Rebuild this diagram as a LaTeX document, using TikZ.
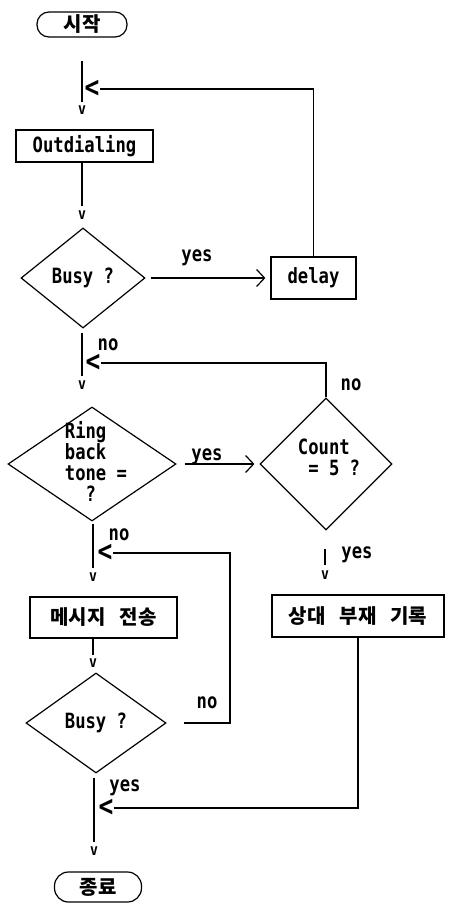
\documentclass[tikz,border=0pt]{standalone}
\usepackage{fontspec}
\usetikzlibrary{arrows.meta,shapes.geometric}
\newfontfamily\twfont[FakeStretch=0.82]{DejaVu Sans Mono}
\newfontfamily\krfont{Noto Sans CJK KR}
\newcommand{\ksp}{\hspace{14pt}}
\begin{document}
\begin{tikzpicture}[x=1pt,y=-1pt,
  line width=1.2pt,
  tw/.style={font=\twfont\bfseries\fontsize{21}{21}\selectfont},
  kr/.style={font=\krfont\bfseries\fontsize{20}{21}\selectfont},
  box/.style={draw, rectangle, inner sep=0pt},
  term/.style={draw, rectangle, inner sep=0pt},
  dia/.style={draw, diamond, inner sep=0pt},
  vglyph/.style={font=\twfont\bfseries\fontsize{16}{16}\selectfont, inner sep=0pt},
  ltglyph/.style={font=\twfont\bfseries\fontsize{30}{30}\selectfont, inner sep=0pt},
  lbl/.style={tw, inner sep=0pt},
  yesarrow/.style={-{Straight Barb[length=8pt,width=17pt,line width=1.2pt]}}
]
\useasboundingbox (0,0) rectangle (449,909);

% upper column
\node[term, kr, minimum width=90pt, minimum height=25pt, rounded corners=12pt] (start) at (82,24.5) {시작};
\node[vglyph] (v1) at (82,110) {v};
\node[ltglyph] (lt1) at (92,89) {<};
\node[box, tw, minimum width=137pt, minimum height=32pt] (outd) at (84.5,146) {Outdialing};
\node[vglyph] (v2) at (82,215) {v};
\node[dia, minimum width=124pt, minimum height=100pt, label={[tw]center:Busy ?}] (busy1) at (83,278) {};
\node[lbl] (yes1) at (197,258) {yes};
\node[box, tw, minimum width=85pt, minimum height=42pt] (delay) at (313.5,278) {delay};
\node[lbl] (no1) at (108,345) {no};
\node[vglyph] (v3) at (82,385) {v};
\node[ltglyph] (lt2) at (93,363) {<};

% ring back / count
\node[dia, minimum width=168pt, minimum height=114pt] (ring) at (92,464) {};
\node[tw, align=left, inner sep=0pt] (ringtxt) at (96,461) {Ring\\back\\tone =\\\hphantom{xx}?};
\node[lbl] (yes2) at (207,457) {yes};
\node[dia, minimum width=132pt, minimum height=132pt] (count) at (326,464) {};
\node[tw, align=left, inner sep=0pt] (counttxt) at (329,457) {Count\\\hphantom{x}= 5 ?};
\node[lbl] (no2) at (351,385) {no};
\node[lbl] (yes3) at (357,555) {yes};
\node[vglyph] (v7) at (325,575) {v};
\node[box, kr, minimum width=172pt, minimum height=42pt] (rec) at (358,616) {상대\ksp 부재\ksp 기록};

% lower column
\node[lbl] (no3) at (119,535) {no};
\node[ltglyph] (lt3) at (105,553) {<};
\node[vglyph] (v4) at (93,577) {v};
\node[box, kr, minimum width=147pt, minimum height=41pt] (msg) at (103.5,617.5) {메시지\ksp 전송};
\node[vglyph] (v5) at (93,663) {v};
\node[dia, minimum width=140pt, minimum height=100pt, label={[tw]center:Busy ?}] (busy2) at (96,723) {};
\coordinate (c3) at (230,553);
\node[lbl] (no4) at (207,703) {no};
\node[lbl] (yes4) at (125,788) {yes};
\node[ltglyph] (lt4) at (106,808) {<};
\node[vglyph] (v6) at (94,851) {v};
\node[term, kr, minimum width=87pt, minimum height=30pt, rounded corners=14pt] (end) at (98,887) {종료};

% connectors
\draw[shorten <=23pt, shorten >=3pt] (start.south -| v1.north) -- (v1.north);
\draw[shorten >=4pt] (outd.south -| v2.north) -- (v2.north);
\draw[yesarrow, shorten <=5pt, shorten >=5pt] (busy1.east) -- (delay.west);
\draw (delay.north) |- (lt1.east);
\draw[shorten <=4pt, shorten >=4pt] (busy1.south -| v3.north) -- (v3.north);
\draw (count.north) |- (lt2.east);
\draw[yesarrow, shorten <=8pt, shorten >=5pt] (ring.east) -- (count.west);
\draw[shorten <=18pt, shorten >=5pt] (count.south -| v7.north) -- (v7.north);
\draw (rec.south) |- (lt4.east);
\draw[shorten <=2pt, shorten >=4pt] (ring.south -| v4.north) -- (v4.north);
\draw[shorten >=3pt] (msg.south -| v5.north) -- (v5.north);
\draw[shorten <=17pt] (busy2.east) -| (c3) -- (lt3.east);
\draw[shorten <=4pt, shorten >=4pt] (busy2.south -| v6.north) -- (v6.north);
\end{tikzpicture}
\end{document}
